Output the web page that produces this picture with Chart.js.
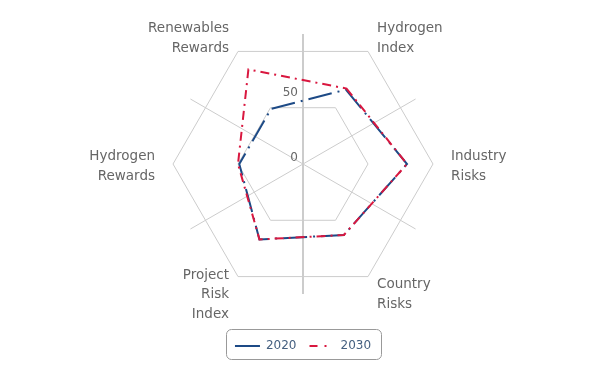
<!DOCTYPE html>
<html>
<head>
<meta charset="utf-8">
<script src="https://cdn.jsdelivr.net/npm/chart.js@4/dist/chart.umd.min.js"></script>
<style>
  html, body { margin: 0; padding: 0; background: #fff; }
  #wrap { width: 608px; height: 380px; }
</style>
</head>
<body>
<div id="wrap"><canvas id="radar"></canvas></div>
<script>
// categories go clockwise, first one sits 30deg right of the top
var categories = [
  ['Hydrogen', 'Index'],
  ['Industry', 'Risks'],
  ['Country', 'Risks'],
  ['Project', 'Risk', 'Index'],
  ['Hydrogen', 'Rewards'],
  ['Renewables', 'Rewards']
];
var seriesNames = ['2020', '2030'];
var values2020 = [66, 80, 63, 67, 49, 49];
var values2030 = [67, 80, 63, 67, 50, 84];
var tickValues = [0, 50];

var FONT = '"DejaVu Sans", "Liberation Sans", sans-serif';
var legendDash = [[], [8, 7, 2, 9]];

var radarExtras = {
  id: 'radarExtras',
  beforeDatasetsDraw: function (chart) {
    var s = chart.scales.r;
    var ctx = chart.ctx;
    var n = chart.data.labels.length;
    var R = s.drawingArea;
    ctx.save();
    // spokes are drawn between the categories, not through them
    ctx.strokeStyle = '#cccccc';
    ctx.lineWidth = 1;
    for (var i = 0; i < n; i++) {
      var a = s.getIndexAngle(i) - Math.PI / 2 - Math.PI / n;
      ctx.beginPath();
      ctx.moveTo(s.xCenter, s.yCenter);
      ctx.lineTo(s.xCenter + Math.cos(a) * R, s.yCenter + Math.sin(a) * R);
      ctx.stroke();
    }
    ctx.lineWidth = 2;
    ctx.beginPath();
    ctx.moveTo(s.xCenter, s.yCenter - R);
    ctx.lineTo(s.xCenter, s.yCenter + R);
    ctx.stroke();

    // tick labels up the vertical axis
    ctx.fillStyle = '#666666';
    ctx.font = '12px ' + FONT;
    ctx.textAlign = 'right';
    ctx.textBaseline = 'alphabetic';
    tickValues.forEach(function (v) {
      var d = s.getDistanceFromCenterForValue(v);
      ctx.fillText(String(v), s.xCenter - 5, s.yCenter - d - 3);
    });
    ctx.restore();
  },
  afterDraw: function (chart) {
    var s = chart.scales.r;
    var ctx = chart.ctx;
    var n = chart.data.labels.length;
    var r = s.drawingArea + 18;
    var lh = 19.5;
    ctx.save();
    ctx.fillStyle = '#666666';
    ctx.font = '13.5px ' + FONT;
    ctx.textBaseline = 'middle';
    for (var i = 0; i < n; i++) {
      var a = s.getIndexAngle(i) - Math.PI / 2;
      var x = s.xCenter + Math.cos(a) * r;
      var y = s.yCenter + Math.sin(a) * r;
      var c = Math.cos(a);
      ctx.textAlign = Math.abs(c) < 0.01 ? 'center' : (c > 0 ? 'left' : 'right');
      var lines = chart.data.labels[i];
      var y0 = y + 2.5 - (lines.length - 1) * lh / 2;
      lines.forEach(function (t, k) {
        ctx.fillText(t, x, y0 + k * lh);
      });
    }

    // rounded frame round the legend
    var boxes = chart.legend.legendHitBoxes;
    if (boxes && boxes.length) {
      var l = Infinity, t = Infinity, rt = -Infinity, b = -Infinity;
      boxes.forEach(function (h) {
        l = Math.min(l, h.left);
        t = Math.min(t, h.top);
        rt = Math.max(rt, h.left + h.width);
        b = Math.max(b, h.top + h.height);
      });
      ctx.strokeStyle = '#999999';
      ctx.lineWidth = 1;
      ctx.beginPath();
      ctx.roundRect(Math.round(l - 9) + 0.5, Math.round(t - 11) + 0.5, Math.round(rt - l + 19), Math.round(b - t + 18), 5);
      ctx.stroke();
    }
    ctx.restore();
  }
};

var defaultLabels = Chart.defaults.plugins.legend.labels.generateLabels;

new Chart(document.getElementById('radar'), {
  type: 'radar',
  data: {
    labels: categories,
    datasets: [{
      label: seriesNames[0],
      data: values2020,
      borderColor: '#1d4a86',
      backgroundColor: '#1d4a86',
      borderWidth: 2,
      borderDash: [24, 6, 2, 6],
      fill: false,
      pointRadius: 0,
      pointHoverRadius: 0,
      order: 1
    }, {
      label: seriesNames[1],
      data: values2030,
      borderColor: '#d9173f',
      backgroundColor: '#d9173f',
      borderWidth: 2,
      borderDash: [9, 5, 2, 5],
      fill: false,
      pointRadius: 0,
      pointHoverRadius: 0,
      order: 0
    }]
  },
  options: {
    responsive: true,
    maintainAspectRatio: false,
    animation: false,
    layout: { padding: { left: 173, right: 175, top: 1, bottom: 18 } },
    scales: {
      r: {
        min: 0,
        max: 100,
        startAngle: 30,
        ticks: { stepSize: 50, display: false },
        grid: { color: '#cccccc', lineWidth: 1 },
        angleLines: { display: false },
        pointLabels: { display: false }
      }
    },
    plugins: {
      tooltip: { enabled: false },
      legend: {
        position: 'bottom',
        labels: {
          usePointStyle: true,
          pointStyle: 'line',
          pointStyleWidth: 25,
          padding: 13,
          color: '#456080',
          font: { family: FONT, size: 12 },
          sort: function (a, b) { return a.datasetIndex - b.datasetIndex; },
          generateLabels: function (chart) {
            var items = defaultLabels(chart);
            items.forEach(function (it) {
              it.lineDash = legendDash[it.datasetIndex];
              it.strokeStyle = chart.data.datasets[it.datasetIndex].borderColor;
              it.lineWidth = 2;
            });
            return items;
          }
        }
      }
    }
  },
  plugins: [radarExtras]
});
</script>
</body>
</html>
